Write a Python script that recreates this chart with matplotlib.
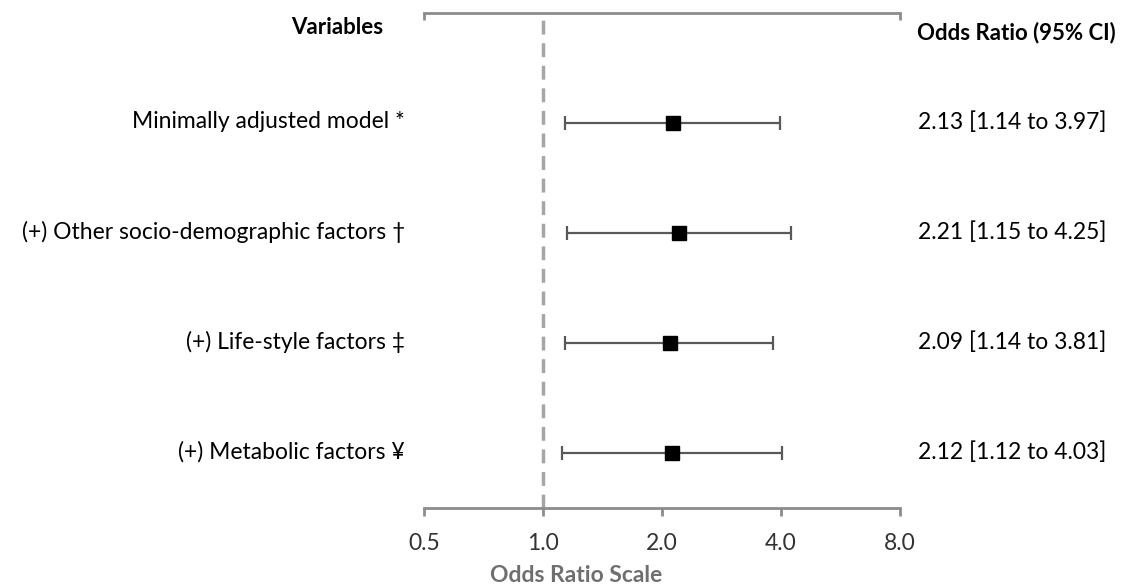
import numpy as np
import matplotlib.pyplot as plt

# data
labels = ['Minimally adjusted model *',
          '(+) Other socio-demographic factors \u2020',
          '(+) Life-style factors \u2021',
          '(+) Metabolic factors \u00a5']
odds = [2.13, 2.21, 2.09, 2.12]
lower = [1.14, 1.15, 1.14, 1.12]
upper = [3.97, 4.25, 3.81, 4.03]
ticks = [0.5, 1.0, 2.0, 4.0, 8.0]

plt.rcParams['font.family'] = ['Lato', 'DejaVu Sans']

fig = plt.figure(figsize=(11.21, 5.87), dpi=100)
ax = fig.add_axes([424/1121, 1-508/587, 476/1121, (508-13)/587])

axis_col = '#8c8c8c'
ypos = np.arange(1, len(labels)+1)
odds = np.array(odds)
err = [odds - np.array(lower), np.array(upper) - odds]

ax.axvline(1.0, color='#a6a6a6', lw=2.5, ls=(0, (4, 2.5)), zorder=1)
ax.errorbar(odds, ypos, xerr=err, fmt='none', ecolor='#595959', elinewidth=1.6,
            capsize=5, capthick=1.6, zorder=2)
ax.plot(odds, ypos, 's', color='black', ms=10, zorder=3)

ax.set_xscale('log', base=2)
ax.set_xlim(0.5, 8)
ax.set_ylim(4.5, 0.0)
ax.set_xticks(ticks)
ax.set_xticklabels(['%.1f' % t for t in ticks], fontsize=16.5)
ax.minorticks_off()
ax.set_yticks([])
for s in ['left', 'right']:
    ax.spines[s].set_visible(False)
for s in ['top', 'bottom']:
    ax.spines[s].set_color(axis_col)
    ax.spines[s].set_linewidth(2)
ax.tick_params(axis='x', colors=axis_col, width=2, length=6, pad=12, labelcolor='#333333')

top = ax.secondary_xaxis('top')
top.set_xscale('log', base=2)
top.set_xticks([0.5, 8.0])
top.set_xticklabels(['', ''])
top.minorticks_off()
top.tick_params(direction='in', length=5, width=2, colors=axis_col)
top.spines['top'].set_visible(False)

ax.set_xlabel('Odds Ratio Scale', fontsize=16.5, fontweight='bold', color='#6f6f6f')
ax.xaxis.set_label_coords(0.32, -0.115)

for y, lab, o, lo, hi in zip(ypos, labels, odds, lower, upper):
    fig.text(405/1121, 1-(122+110*(y-1))/587, lab, ha='right', va='center', fontsize=16.5)
    fig.text(918/1121, 1-(122+110*(y-1))/587, '%.2f [%.2f to %.2f]' % (o, lo, hi),
             ha='left', va='center', fontsize=16.5)

fig.text(337/1121, 1-27/587, 'Variables', ha='center', va='center', fontsize=16, fontweight='bold')
fig.text(917/1121, 1-33/587, 'Odds Ratio (95% CI)', ha='left', va='center', fontsize=16, fontweight='bold')

fig.savefig('out.png', dpi=100)
